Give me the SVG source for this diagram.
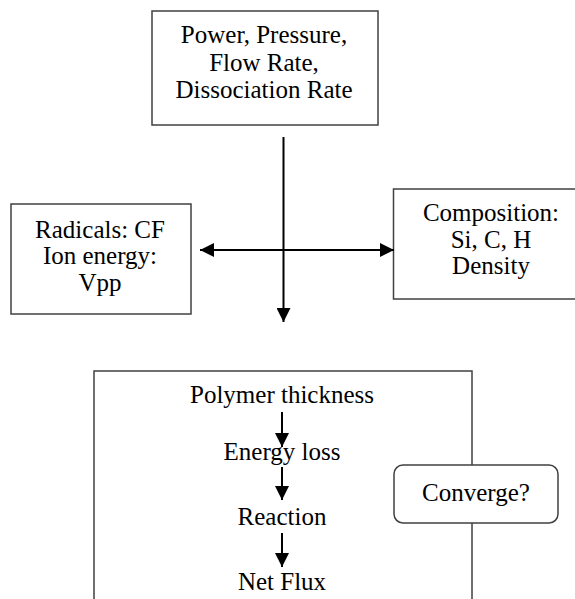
<svg xmlns="http://www.w3.org/2000/svg" width="575" height="599" viewBox="0 0 575 599">
<style>
.box{fill:#fff;stroke:#404040;stroke-width:1.5}
.t{font-family:'Liberation Serif','Times New Roman',serif;font-size:25px;fill:#000;text-anchor:middle}
.ln{stroke:#000;stroke-width:2;fill:none}
</style>
<defs>
<marker id="ah" viewBox="0 0 10 10" refX="10" refY="5" markerWidth="7" markerHeight="7" markerUnits="strokeWidth" orient="auto">
<path d="M0,0 L10,5 L0,10 Z" fill="#000"/>
</marker>
</defs>
<rect width="575" height="599" fill="#fff"/>
<g id="bottom">
<rect class="box" x="94" y="371" width="378" height="240"/>
<text class="t" x="282" y="403">Polymer thickness</text>
<text class="t" x="282" y="460">Energy loss</text>
<text class="t" x="282" y="525">Reaction</text>
<text class="t" x="282" y="590">Net Flux</text>
</g>
<g id="top">
<rect class="box" x="152" y="11" width="226" height="114"/>
<text class="t" x="264" y="43">Power, Pressure,</text>
<text class="t" x="264" y="71">Flow Rate,</text>
<text class="t" x="264" y="98">Dissociation Rate</text>
</g>
<g id="left">
<rect class="box" x="11" y="204" width="180" height="110"/>
<text class="t" x="100" y="238">Radicals: CF</text>
<text class="t" x="100" y="264">Ion energy:</text>
<text class="t" x="100" y="291">Vpp</text>
</g>
<g id="right">
<rect class="box" x="393.5" y="189" width="190" height="110"/>
<text class="t" x="491" y="221">Composition:</text>
<text class="t" x="491" y="248">Si, C, H</text>
<text class="t" x="491" y="274">Density</text>
</g>
<g id="converge">
<rect class="box" x="394" y="465" width="164" height="58" rx="9"/>
<text class="t" x="476" y="501">Converge?</text>
</g>
<g id="connectors">
<line class="ln" x1="283.5" y1="137" x2="283.5" y2="322" marker-end="url(#ah)"/>
<line class="ln" x1="290" y1="250" x2="200" y2="250" marker-end="url(#ah)"/>
<line class="ln" x1="280" y1="250" x2="394" y2="250" marker-end="url(#ah)"/>
<line class="ln" x1="282" y1="412" x2="282" y2="447" marker-end="url(#ah)"/>
<line class="ln" x1="282" y1="467" x2="282" y2="500" marker-end="url(#ah)"/>
<line class="ln" x1="282" y1="533" x2="282" y2="567" marker-end="url(#ah)"/>
</g>
</svg>
